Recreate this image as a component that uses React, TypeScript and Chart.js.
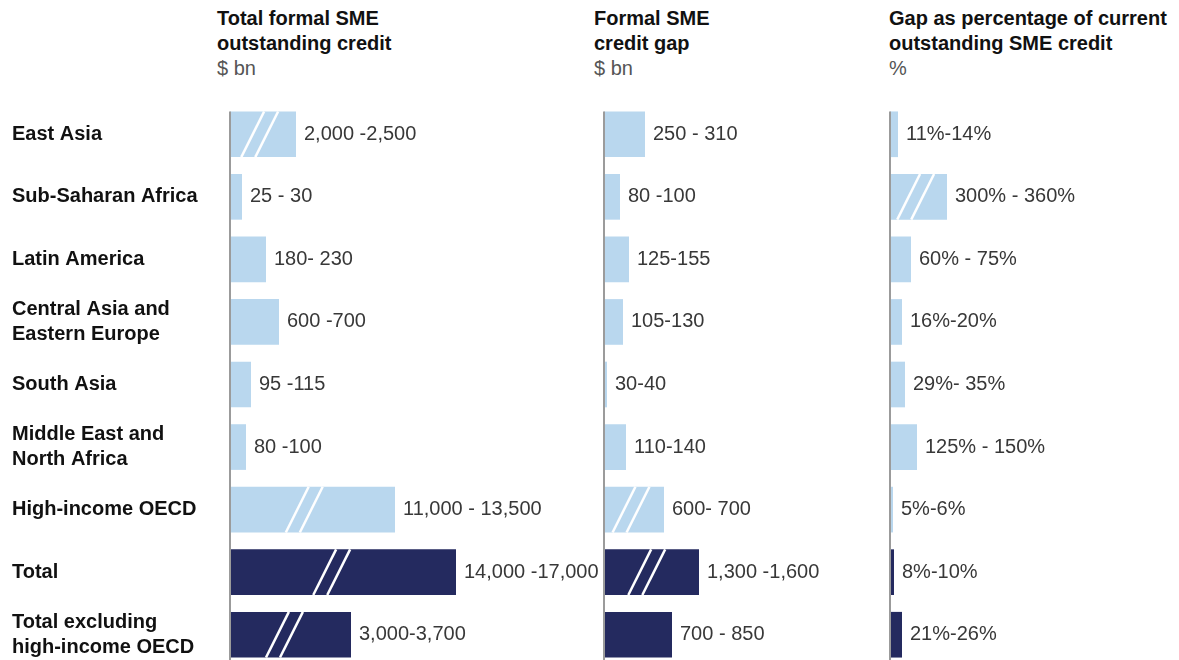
import React, { useEffect, useRef } from 'react';
import { Chart, registerables } from 'chart.js';

Chart.register(...registerables);

// ---------- data ----------
const regions: (string | string[])[] = [
  'East Asia',
  'Sub-Saharan Africa',
  'Latin America',
  ['Central Asia and', 'Eastern Europe'],
  'South Asia',
  ['Middle East and', 'North Africa'],
  'High-income OECD',
  'Total',
  ['Total excluding', 'high-income OECD'],
];
const totalRows = [false, false, false, false, false, false, false, true, true];

// Panel 1: total formal SME outstanding credit ($ bn)
const outstandingRange = ['2,000 -2,500', '25 - 30', '180- 230', '600 -700', '95 -115', '80 -100', '11,000 - 13,500', '14,000 -17,000', '3,000-3,700'];
const outstandingBarLength = [66, 12, 36, 49, 21, 16, 165, 226, 121];
const outstandingBroken = [true, false, false, false, false, false, true, true, true];

// Panel 2: formal SME credit gap ($ bn)
const gapRange = ['250 - 310', '80 -100', '125-155', '105-130', '30-40', '110-140', '600- 700', '1,300 -1,600', '700 - 850'];
const gapBarLength = [41, 16, 25, 19, 3, 22, 60, 95, 68];
const gapBroken = [false, false, false, false, false, false, true, true, false];

// Panel 3: gap as % of current outstanding SME credit
const pctRange = ['11%-14%', '300% - 360%', '60% - 75%', '16%-20%', '29%- 35%', '125% - 150%', '5%-6%', '8%-10%', '21%-26%'];
const pctBarLength = [8, 57, 21, 12, 15, 27, 3, 4, 12];
const pctBroken = [false, true, false, false, false, false, false, false, false];

const panelTitles = [
  ['Total formal SME', 'outstanding credit', '$ bn'],
  ['Formal SME', 'credit gap', '$ bn'],
  ['Gap as percentage of current', 'outstanding SME credit', '%'],
];

// ---------- style ----------
const FONT = '"Liberation Sans", Arial, Helvetica, sans-serif';
const LIGHT = '#b9d7ee';
const NAVY = '#242a5f';
const CANVAS_H = 670;
const AXIS_W = 218;

function makePlugin(valueLabels: string[], broken: boolean[]) {
  return {
    id: 'panelDecor',
    afterDatasetsDraw(chart: any) {
      const ctx = chart.ctx;
      const meta = chart.getDatasetMeta(0);
      const area = chart.chartArea;
      ctx.save();
      meta.data.forEach((bar: any, i: number) => {
        const { x, y, base, height } = bar.getProps(['x', 'y', 'base', 'height'], true);
        if (broken[i]) {
          const c = base + (x - base) * 0.45;
          const top = y - height / 2;
          const bot = y + height / 2;
          const dx = height * 0.5;
          ctx.strokeStyle = '#ffffff';
          ctx.lineWidth = 2.5;
          [-7, 7].forEach((o) => {
            ctx.beginPath();
            ctx.moveTo(c + o - dx / 2, bot);
            ctx.lineTo(c + o + dx / 2, top);
            ctx.stroke();
          });
        }
        ctx.fillStyle = '#383838';
        ctx.font = `20px ${FONT}`;
        ctx.textAlign = 'left';
        ctx.textBaseline = 'middle';
        ctx.fillText(valueLabels[i], x + 8, y);
      });
      const first = meta.data[0];
      const lineTop = first.y - first.height / 2;
      ctx.strokeStyle = '#9b9b9b';
      ctx.lineWidth = 2;
      ctx.beginPath();
      ctx.moveTo(area.left, lineTop);
      ctx.lineTo(area.left, chart.height);
      ctx.stroke();
      ctx.restore();
    },
  };
}

type PanelProps = {
  left: number;
  width: number;
  padLeft: number;
  showAxis: boolean;
  lengths: number[];
  labels: string[];
  broken: boolean[];
};

function Panel({ left, width, padLeft, showAxis, lengths, labels, broken }: PanelProps) {
  const ref = useRef<HTMLCanvasElement>(null);
  useEffect(() => {
    if (!ref.current) return;
    const colors = totalRows.map((t) => (t ? NAVY : LIGHT));
    const yScale: any = {
      display: showAxis,
      grid: { display: false },
      border: { display: false },
      ticks: {
        color: '#111111',
        font: { family: FONT, size: 20, weight: 'bold', lineHeight: 1.25 },
        crossAlign: 'far',
        padding: 0,
      },
    };
    if (showAxis) {
      yScale.afterFit = (s: any) => {
        s.width = AXIS_W;
        s.paddingTop = 0;
        s.paddingBottom = 0;
      };
    }
    const chart = new Chart(ref.current, {
      type: 'bar',
      data: {
        labels: regions as any,
        datasets: [
          {
            data: lengths,
            backgroundColor: colors,
            borderWidth: 0,
            barPercentage: 0.73,
            categoryPercentage: 1,
          },
        ],
      },
      options: {
        indexAxis: 'y',
        animation: false,
        responsive: false,
        devicePixelRatio: 1,
        layout: { padding: { left: padLeft, top: 103, bottom: 4, right: 0 } },
        plugins: {
          legend: { display: false },
          tooltip: { enabled: false },
          title: { display: false },
        },
        scales: {
          x: { display: false, min: 0, max: width - padLeft - (showAxis ? AXIS_W : 0) },
          y: yScale,
        },
      } as any,
      plugins: [makePlugin(labels, broken)],
    });
    return () => chart.destroy();
  }, []);
  return (
    <canvas
      ref={ref}
      width={width}
      height={CANVAS_H}
      style={{ position: 'absolute', left, top: 0, width, height: CANVAS_H }}
    />
  );
}

function Title({ left, lines }: { left: number; lines: string[] }) {
  return (
    <div
      style={{
        position: 'absolute',
        left,
        top: 6,
        fontFamily: FONT,
        fontSize: 20,
        lineHeight: '25px',
        color: '#111',
        whiteSpace: 'nowrap',
      }}
    >
      <div style={{ fontWeight: 'bold' }}>{lines[0]}</div>
      <div style={{ fontWeight: 'bold' }}>{lines[1]}</div>
      <div style={{ color: '#555' }}>{lines[2]}</div>
    </div>
  );
}

export default function App() {
  return (
    <div style={{ position: 'relative', width: 1179, height: 660, overflow: 'hidden', background: '#fff' }}>
      <style>{'body{margin:0;overflow:hidden;background:#fff}'}</style>
      <Title left={217} lines={panelTitles[0]} />
      <Title left={594} lines={panelTitles[1]} />
      <Title left={889} lines={panelTitles[2]} />
      <Panel left={0} width={600} padLeft={12} showAxis={true} lengths={outstandingBarLength} labels={outstandingRange} broken={outstandingBroken} />
      <Panel left={590} width={290} padLeft={14} showAxis={false} lengths={gapBarLength} labels={gapRange} broken={gapBroken} />
      <Panel left={880} width={299} padLeft={10} showAxis={false} lengths={pctBarLength} labels={pctRange} broken={pctBroken} />
    </div>
  );
}
